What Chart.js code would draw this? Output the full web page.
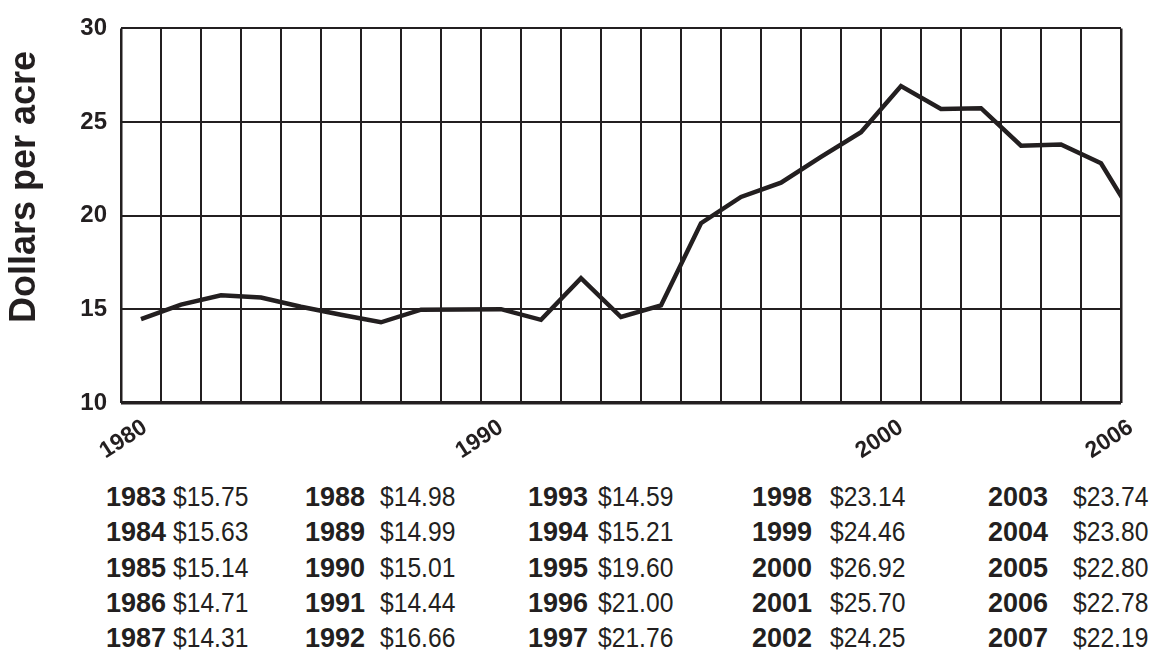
<!DOCTYPE html>
<html>
<head>
<meta charset="utf-8">
<script src="https://cdn.jsdelivr.net/npm/chart.js@4.4.0/dist/chart.umd.min.js"></script>
<style>
  html, body { margin: 0; padding: 0; background: #fff; }
  body { width: 1154px; height: 660px; position: relative; overflow: hidden;
         font-family: "Liberation Sans", Arial, sans-serif; color: #231f20; }
  #chart { position: absolute; left: 0; top: 0; }
  .cell { position: absolute; white-space: nowrap; font-size: 28px; line-height: 28px; }
  .yr { font-weight: bold; font-size: 27px; }
  .val { transform: scaleX(0.88); transform-origin: left center; }
</style>
</head>
<body>
<canvas id="chart" width="1154" height="462"></canvas>
<div id="table"></div>
<script>
// plotted series (as drawn in the picture)
const years = [1981, 1982, 1983, 1984, 1985, 1986, 1987, 1988, 1989, 1990, 1991, 1992, 1993,
  1994, 1995, 1996, 1997, 1998, 1999, 2000, 2001, 2002, 2003, 2004, 2005, 2006];
const dollarsPerAcre = [14.48, 15.25, 15.75, 15.63, 15.14, 14.71, 14.31, 14.98, 14.99, 15.01, 14.44, 16.66, 14.59,
  15.21, 19.60, 21.00, 21.76, 23.14, 24.46, 26.92, 25.70, 25.74, 23.74, 23.80, 22.80, 19.3];

// x tick labels
const tickYears = [1980, 1990, 2000, 2006];
const yTitle = "Dollars per acre";

// table under the chart
const tableYears = ["1983", "1984", "1985", "1986", "1987", "1988", "1989", "1990", "1991", "1992",
  "1993", "1994", "1995", "1996", "1997", "1998", "1999", "2000", "2001", "2002",
  "2003", "2004", "2005", "2006", "2007"];
const tableValues = ["$15.75", "$15.63", "$15.14", "$14.71", "$14.31", "$14.98", "$14.99", "$15.01", "$14.44", "$16.66",
  "$14.59", "$15.21", "$19.60", "$21.00", "$21.76", "$23.14", "$24.46", "$26.92", "$25.70", "$24.25",
  "$23.74", "$23.80", "$22.80", "$22.78", "$22.19"];

const ink = "#231f20";

// table layout
const colYearX = [106, 305, 528, 752, 988];
const colValX = [173, 380, 598, 830, 1073];
const tbl = document.getElementById("table");
tableYears.forEach((y, i) => {
  const col = Math.floor(i / 5), row = i % 5;
  const top = 483 + row * 35.3;
  const a = document.createElement("div");
  a.className = "cell yr";
  a.style.left = colYearX[col] + "px";
  a.style.top = top + "px";
  a.textContent = y;
  const b = document.createElement("div");
  b.className = "cell val";
  b.style.left = colValX[col] + "px";
  b.style.top = top + "px";
  b.textContent = tableValues[i];
  tbl.appendChild(a);
  tbl.appendChild(b);
});

const yTitlePlugin = {
  id: "yTitle",
  afterDraw(chart) {
    const ctx = chart.ctx;
    ctx.save();
    ctx.translate(25, 187);
    ctx.rotate(-Math.PI / 2);
    ctx.font = 'bold 36px "Liberation Sans", Arial, sans-serif';
    ctx.textAlign = "center";
    ctx.textBaseline = "middle";
    ctx.fillStyle = ink;
    ctx.fillText(yTitle, 0, 0);
    ctx.restore();
  }
};

new Chart(document.getElementById("chart"), {
  type: "line",
  data: {
    datasets: [{
      data: years.map((y, i) => ({ x: y, y: dollarsPerAcre[i] })),
      borderColor: ink,
      borderWidth: 4.5,
      borderJoinStyle: "miter",
      pointRadius: 0,
      tension: 0,
      clip: 0,
      xAxisID: "x",
      yAxisID: "y"
    }]
  },
  options: {
    responsive: false,
    animation: false,
    devicePixelRatio: 1,
    layout: { padding: { left: 0, right: 33, top: 20, bottom: 0 } },
    plugins: { legend: { display: false }, tooltip: { enabled: false } },
    scales: {
      x: {
        type: "linear",
        position: "bottom",
        min: 1980.5,
        max: 2005.5,
        grid: { display: false },
        border: { display: false },
        afterBuildTicks: (axis) => {
          axis.ticks = tickYears.map(y => ({ value: Math.min(Math.max(y, 1981.1), 2005.75) }));
        },
        afterFit: (axis) => { axis.height = 59; },
        ticks: {
          autoSkip: false,
          minRotation: 33,
          maxRotation: 33,
          padding: 3,
          color: ink,
          font: { family: '"Liberation Sans", Arial, sans-serif', size: 23, weight: "bold" },
          callback: (v, i) => String(tickYears[i])
        }
      },
      xg: {
        type: "linear",
        position: "bottom",
        min: 1980.5,
        max: 2005.5,
        afterBuildTicks: (axis) => {
          const t = [];
          for (let v = 1980.5; v <= 2005.5; v += 1) t.push({ value: v });
          axis.ticks = t;
        },
        afterFit: (axis) => { axis.height = 0; },
        grid: {
          color: ink,
          lineWidth: (c) => (c.tick && (c.tick.value === 1980.5 || c.tick.value === 2005.5)) ? 2.5 : 2,
          drawTicks: false
        },
        border: { display: false },
        ticks: { display: false }
      },
      y: {
        min: 10,
        max: 30,
        afterFit: (axis) => { axis.width = 121; },
        grid: {
          color: ink,
          lineWidth: (c) => (c.tick && c.tick.value === 10) ? 3.5 : 2,
          drawTicks: false
        },
        border: { display: false },
        ticks: {
          stepSize: 5,
          padding: 14,
          color: ink,
          font: { family: '"Liberation Sans", Arial, sans-serif', size: 24, weight: "bold" }
        }
      }
    }
  },
  plugins: [yTitlePlugin]
});
</script>
</body>
</html>
